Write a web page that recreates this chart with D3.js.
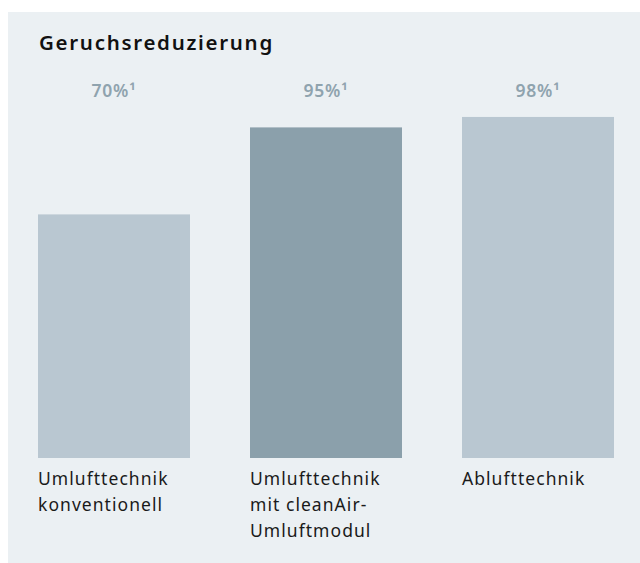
<!DOCTYPE html>
<html>
<head>
<meta charset="utf-8">
<script src="https://cdn.jsdelivr.net/npm/d3@7"></script>
<style>
  html, body { margin: 0; padding: 0; background: #ffffff; }
  svg { display: block; }
  text { font-family: "Noto Sans", "Open Sans", sans-serif; }
</style>
</head>
<body>
<svg id="chart" width="640" height="563"></svg>
<script>
// Odour reduction by extraction mode
const categories = ["Umlufttechnik konventionell", "Umlufttechnik mit cleanAir-Umluftmodul", "Ablufttechnik"];
const categoryLines = [
  ["Umlufttechnik", "konventionell"],
  ["Umlufttechnik", "mit cleanAir-", "Umluftmodul"],
  ["Ablufttechnik"]
];
const values = [70, 95, 98];
const barColors = ["#b9c7d1", "#8ba0ab", "#b9c7d1"];
const title = "Geruchsreduzierung";
const footnoteMark = "\u00B9";

const svg = d3.select("#chart");
const W = 640, H = 563;

// panel background
svg.append("rect")
  .attr("x", 8).attr("y", 12)
  .attr("width", W - 8).attr("height", H - 12)
  .attr("fill", "#ebf0f3");

svg.append("text")
  .attr("x", 39).attr("y", 50)
  .attr("font-size", 20.5)
  .attr("font-weight", 600)
  .attr("letter-spacing", 1.7)
  .attr("fill", "#111111")
  .text(title);

const x = d3.scaleBand()
  .domain(categories)
  .range([38, 614])
  .paddingInner(0.283)
  .paddingOuter(0);

const y = d3.scaleLinear()
  .domain([0, 100])
  .range([458, 110]);

const data = categories.map((c, i) => ({ c, v: values[i], color: barColors[i], lines: categoryLines[i] }));

svg.append("g").selectAll("rect")
  .data(data)
  .join("rect")
  .attr("x", d => x(d.c))
  .attr("y", d => y(d.v))
  .attr("width", x.bandwidth())
  .attr("height", d => y(0) - y(d.v))
  .attr("fill", d => d.color);

// value labels in a row above the bars
svg.append("g").selectAll("text")
  .data(data)
  .join("text")
  .attr("x", d => x(d.c) + x.bandwidth() / 2)
  .attr("y", 97)
  .attr("text-anchor", "middle")
  .attr("font-size", 17.5)
  .attr("font-weight", 600)
  .attr("letter-spacing", 0.8)
  .attr("fill", "#8fa3ae")
  .text(d => d.v + "%" + footnoteMark);

// category labels below the bars
const cat = svg.append("g").selectAll("text")
  .data(data)
  .join("text")
  .attr("x", d => x(d.c))
  .attr("y", 485)
  .attr("font-size", 17.5)
  .attr("letter-spacing", 1.05)
  .attr("fill", "#1a1a1a");

cat.selectAll("tspan")
  .data(d => d.lines.map(l => ({ l, x: x(d.c) })))
  .join("tspan")
  .attr("x", d => d.x)
  .attr("dy", (d, i) => i === 0 ? 0 : 26)
  .text(d => d.l);
</script>
</body>
</html>
